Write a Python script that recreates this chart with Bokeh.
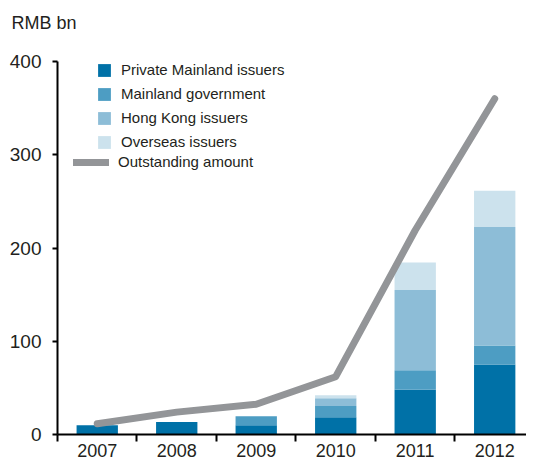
from bokeh.plotting import figure
from bokeh.models import Range1d, FixedTicker, Legend, LegendItem, Title
from bokeh.embed import file_html
from bokeh.resources import INLINE

years = ["2007", "2008", "2009", "2010", "2011", "2012"]
private_mainland = [10, 13.5, 10, 18.5, 48, 75]
mainland_gov = [0, 0, 9.5, 12, 21, 20.5]
hong_kong = [0, 0, 0, 8.5, 86, 127]
overseas = [0, 0, 0, 3, 29.5, 39]
outstanding = [11.5, 24, 32.5, 62, 219, 360]
y_ticks = [0, 100, 200, 300, 400]

colors = ["#0071a7", "#4d9dc3", "#8dbdd7", "#cce2ed"]
line_color = "#939598"
text_color = "#231f20"
FONT = "Liberation Sans"

W, HGT = 526, 459
TOP, BOTTOM, LEFT = 61, 25, 57
FRAME_H = HGT - TOP - BOTTOM

x = list(range(len(years)))
data = dict(x=x, private=private_mainland, gov=mainland_gov, hk=hong_kong, ovs=overseas, out=outstanding)

p = figure(width=W, height=HGT, output_backend="svg", toolbar_location=None,
           x_range=Range1d(-0.5, 5.4), y_range=Range1d(0, 400),
           min_border_left=LEFT, min_border_right=0, min_border_top=TOP, min_border_bottom=BOTTOM)
p.outline_line_color = None
p.grid.visible = False
p.background_fill_color = "white"
p.border_fill_color = "white"

bars = p.vbar_stack(["private", "gov", "hk", "ovs"], x="x", width=0.52, color=colors,
                    line_color=None, source=data)
line = p.line("x", "out", source=data, line_color=line_color, line_width=7,
              line_cap="round", line_join="round")

# spacer between unit title and the plot area
spacer = Title(text=" ", text_font_size="1px", standoff=26)
p.add_layout(spacer, "above")

# unit title
p.title.text = "RMB bn"
p.title.text_font = FONT
p.title.text_font_size = "18px"
p.title.text_font_style = "normal"
p.title.text_color = text_color
p.title.align = "left"
p.title.offset = -46
p.title.standoff = 0

# x axis
xa = p.xaxis[0]
xa.ticker = FixedTicker(ticks=x, minor_ticks=[i - 0.5 for i in range(len(years) + 1)])
xa.major_label_overrides = {i: y for i, y in enumerate(years)}
xa.major_tick_out = 0
xa.major_tick_in = 0
xa.minor_tick_out = 7
xa.minor_tick_in = 0
xa.minor_tick_line_color = "black"
xa.minor_tick_line_width = 2
xa.axis_line_color = "black"
xa.axis_line_width = 2
xa.major_label_text_font = FONT
xa.major_label_text_font_size = "18px"
xa.major_label_text_color = text_color
xa.major_label_standoff = 2

# y axis
ya = p.yaxis[0]
ya.ticker = FixedTicker(ticks=y_ticks)
ya.major_tick_out = 5
ya.major_tick_in = 0
ya.minor_tick_out = 0
ya.minor_tick_in = 0
ya.major_tick_line_color = "black"
ya.major_tick_line_width = 2
ya.axis_line_color = "black"
ya.axis_line_width = 2
ya.major_label_text_font = FONT
ya.major_label_text_font_size = "19px"
ya.major_label_text_color = text_color
ya.major_label_standoff = 11

labels = ["Private Mainland issuers", "Mainland government", "Hong Kong issuers", "Overseas issuers"]

def style_legend(lg, gw):
    lg.border_line_color = None
    lg.background_fill_alpha = 0
    lg.padding = 0
    lg.margin = 0
    lg.spacing = 7
    lg.glyph_width = gw
    lg.glyph_height = 16
    lg.label_height = 16
    lg.label_standoff = 9
    lg.label_text_font = FONT
    lg.label_text_font_size = "15px"
    lg.label_text_color = text_color

bar_legend = Legend(items=[LegendItem(label=l, renderers=[r]) for l, r in zip(labels, bars)],
                    location=(39, FRAME_H - 89))
style_legend(bar_legend, 16)
line_legend = Legend(items=[LegendItem(label="Outstanding amount", renderers=[line])],
                     location=(16, FRAME_H - 92 - 17))
style_legend(line_legend, 36)
p.add_layout(bar_legend, "center")
p.add_layout(line_legend, "center")

open("out.html", "w").write(file_html(p, INLINE))
